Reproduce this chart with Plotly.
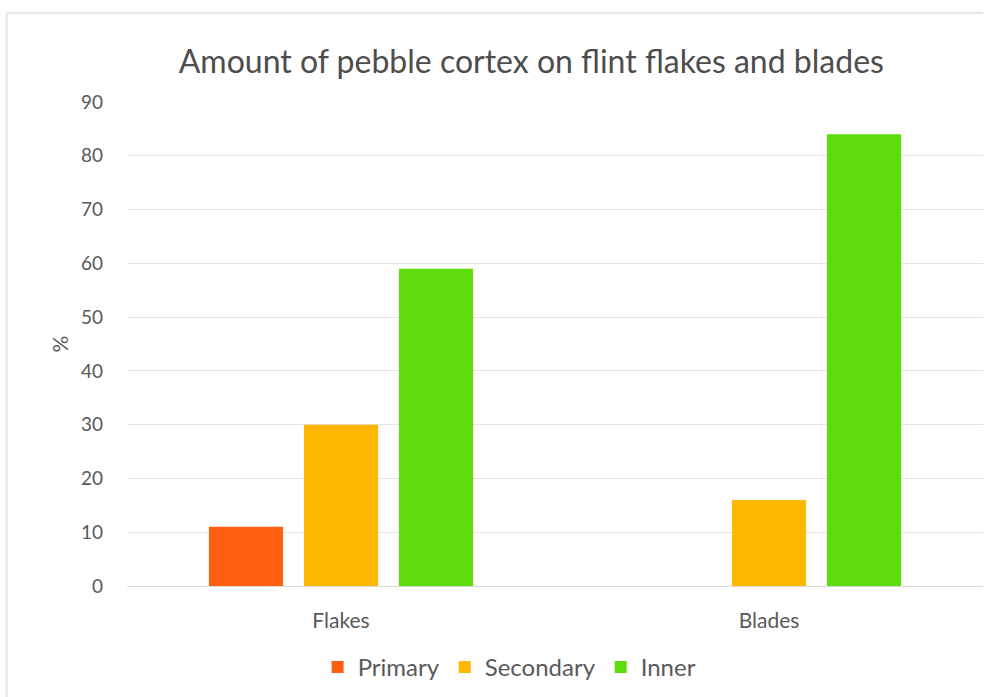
import plotly.graph_objects as go

categories = ["Flakes", "Blades"]
series_names = ["Primary", "Secondary", "Inner"]
primary = [11, None]
secondary = [30, 16]
inner = [59, 84]
colors = ["#FF5F0F", "#FFB700", "#5EDB0A"]
y_ticks = [0, 10, 20, 30, 40, 50, 60, 70, 80, 90]

FONT = "Lato, 'Open Sans', sans-serif"
TXT = "#595959"

fig = go.Figure()
for name, vals, col in zip(series_names, [primary, secondary, inner], colors):
    fig.add_trace(go.Bar(name=name, x=categories, y=vals, marker=dict(color=col, line=dict(width=0))))

fig.update_layout(
    width=995, height=697,
    margin=dict(l=127, r=12, t=102, b=111, autoexpand=False),
    paper_bgcolor="white", plot_bgcolor="white",
    barmode="group", bargap=0.334, bargroupgap=0.22,
    title=dict(text="Amount of pebble cortex on flint flakes and blades",
               x=0.534, xref="container", xanchor="center",
               y=1 - 62/697, yref="container", yanchor="middle",
               font=dict(family=FONT, size=32, color="#4d4d4d")),
    font=dict(family=FONT, color=TXT, size=18),
    showlegend=True,
    legend=dict(orientation="h", x=0.447, xanchor="center", y=-0.168, yanchor="middle",
                font=dict(size=24, color=TXT), traceorder="normal", itemwidth=30),
    xaxis=dict(showgrid=False, showline=True, linecolor="#D9D9D9", linewidth=1, automargin=False,
               tickfont=dict(size=21, color=TXT), ticks="", ticklabelstandoff=16),
    yaxis=dict(range=[0, 90], tickvals=y_ticks, showgrid=True, gridcolor="#E3E3E3", automargin=False,
               zeroline=False, showline=False, tickfont=dict(size=19, color=TXT),
               ticklabelstandoff=23,
               title=dict(text="%", font=dict(size=21, color=TXT), standoff=6)),
    shapes=[
        dict(type="line", xref="paper", yref="paper", x0=-0.1405, x1=1.0, y0=1.184, y1=1.184,
             line=dict(color="#E6E6E6", width=2)),
        dict(type="line", xref="paper", yref="paper", x0=-0.1405, x1=-0.1405, y0=-0.23, y1=1.184,
             line=dict(color="#E6E6E6", width=2)),
    ],
)

fig.write_html("out.html")
